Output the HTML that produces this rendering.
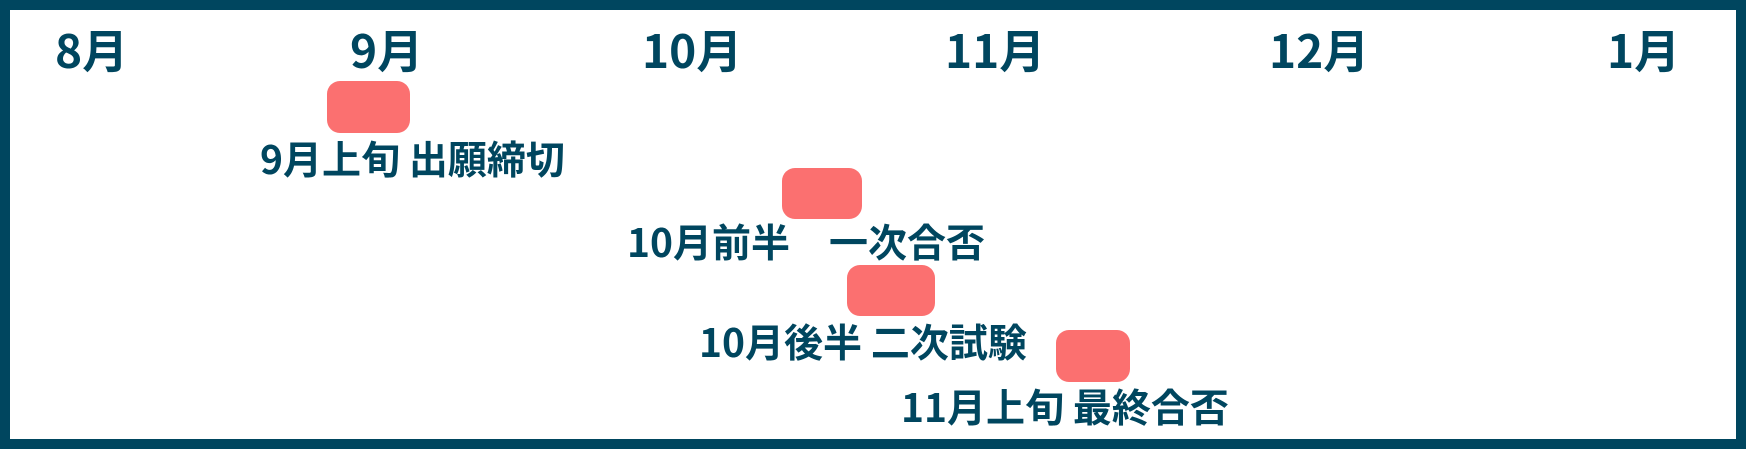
<!DOCTYPE html>
<html><head><meta charset="utf-8"><style>
html,body{margin:0;padding:0;}
body{width:1746px;height:449px;position:relative;overflow:hidden;background:#fff;}
.frame{position:absolute;left:0;top:0;width:1726px;height:429px;border:10px solid #00465f;}
.t{position:absolute;font-family:"Noto Sans CJK JP","Liberation Sans",sans-serif;font-weight:bold;color:#00465f;line-height:1;white-space:pre;}
.m{font-size:46px;}
.l{font-size:39px;}
.b{position:absolute;background:#fb7070;border-radius:13px;}
</style></head><body>
<div class="frame"></div>
<div class="t m" style="left:55px;top:26px">8月</div>
<div class="t m" style="left:350px;top:26px">9月</div>
<div class="t m" style="left:642px;top:26px">10月</div>
<div class="t m" style="left:945px;top:26px">11月</div>
<div class="t m" style="left:1269px;top:26px">12月</div>
<div class="t m" style="left:1607px;top:26px">1月</div>

<div class="b" style="left:327px;top:81px;width:83px;height:52px"></div>
<div class="t l" style="left:260px;top:139px">9月上旬 出願締切</div>

<div class="b" style="left:782px;top:168px;width:80px;height:51px"></div>
<div class="t l" style="left:627px;top:222px">10月前半　一次合否</div>

<div class="b" style="left:847px;top:265px;width:88px;height:51px"></div>
<div class="t l" style="left:699px;top:322px">10月後半 二次試験</div>

<div class="b" style="left:1056px;top:330px;width:74px;height:52px"></div>
<div class="t l" style="left:901px;top:387px">11月上旬 最終合否</div>
</body></html>
